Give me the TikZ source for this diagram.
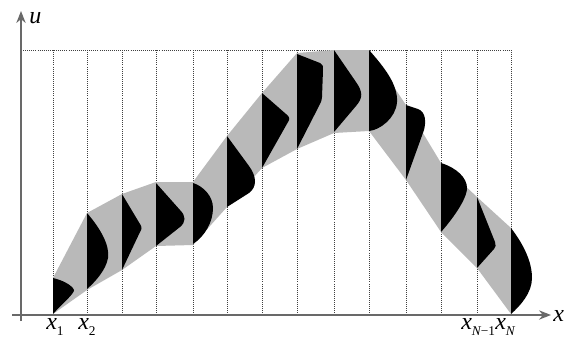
\documentclass[tikz,border=0pt]{standalone}
\usepackage{fontspec}
\setmainfont{Liberation Serif}
\usepackage{tikz}
\usetikzlibrary{arrows.meta}
\definecolor{bandgray}{RGB}{185,185,185}
\definecolor{axisgray}{RGB}{105,105,105}
\newcommand{\lowsub}[1]{\raisebox{-4.5pt}{\fontsize{10}{11}\selectfont #1}}
\tikzset{
  gridline/.style={densely dotted, black!75, line width=0.55pt},
  axisline/.style={-{Stealth[length=9pt,width=7pt]}, axisgray, line width=1.1pt},
  band/.style={fill=bandgray},
  pdf/.style={fill=black},
  varlabel/.style={font=\fontsize{18}{20}\selectfont\itshape, inner sep=0pt},
}

\begin{document}
\begin{tikzpicture}[x=0.75pt,y=-0.75pt]
  \useasboundingbox (0,0) rectangle (572,337);
  % grid
  \draw[gridline] (21,50) -- (511,50);
  \foreach \x in {53,87,122,156,193,227,262,297,334,369,406,441,477,511}
    \draw[gridline] (\x,50) -- (\x,315);
  % band
  \fill[band] (53,278) -- (87,213) -- (122,194) -- (156,182) -- (193,182)
    -- (227,136) -- (262,93) -- (297,53) -- (334,50) -- (369,50)
    -- (406,105) -- (441,163) -- (477,197) -- (511,228)
    -- (511,314) -- (477,268) -- (441,232) -- (406,180) -- (369,131)
    -- (334,133) -- (297,149) -- (262,168) -- (227,207) -- (193,245)
    -- (156,246) -- (122,270) -- (87,290) -- (53,314) -- cycle;
  % densities at the nodes
  \fill[pdf] (53,278) .. controls (62,280) and (72,285) .. (74,290)
    .. controls (75,293) and (60,306) .. (53,314) -- cycle;
  \fill[pdf] (87,213) .. controls (100,228) and (110,245) .. (108,258)
    .. controls (106,270) and (95,282) .. (87,289) -- cycle;
  \fill[pdf] (122,194) -- (140,224) .. controls (142,227) and (142,229) .. (140,232)
    -- (122,270) -- cycle;
  \fill[pdf] (156,183) -- (180,210) .. controls (186,216) and (186,222) .. (180,227)
    -- (156,246) -- cycle;
  \fill[pdf] (193,183) .. controls (203,186) and (213,196) .. (213,208)
    .. controls (213,222) and (205,236) .. (193,244) -- cycle;
  \fill[pdf] (227,136) -- (249,166) .. controls (257,177) and (257,187) .. (249,193)
    -- (227,207) -- cycle;
  \fill[pdf] (262,93) -- (286,114) .. controls (290,117) and (290,119) .. (288,122)
    -- (262,168) -- cycle;
  \fill[pdf] (297,54) -- (320,63) .. controls (323,64) and (323,66) .. (323,70)
    -- (322,97) .. controls (322,100) and (321,102) .. (320,104) -- (297,149) -- cycle;
  \fill[pdf] (334,50) -- (356,82) .. controls (363,92) and (363,98) .. (356,106)
    -- (334,132) -- cycle;
  \fill[pdf] (369,50) .. controls (385,68) and (398,85) .. (397,102)
    .. controls (396,118) and (380,130) .. (369,131) -- cycle;
  \fill[pdf] (406,105) -- (418,109) .. controls (426,112) and (426,122) .. (424,130)
    -- (406,180) -- cycle;
  \fill[pdf] (441,163) .. controls (457,168) and (467,178) .. (467,188)
    .. controls (467,200) and (450,222) .. (441,232) -- cycle;
  \fill[pdf] (477,197) -- (495,242) .. controls (496,245) and (496,247) .. (494,249)
    -- (477,268) -- cycle;
  \fill[pdf] (511,228) .. controls (524,245) and (532,262) .. (532,278)
    .. controls (532,293) and (520,306) .. (511,314) -- cycle;
  % axes
  \coordinate (xstart) at (12,315);
  \coordinate (xend) at (551,315);
  \coordinate (ustart) at (21,321);
  \coordinate (uend) at (21,11);
  \draw[axisline] (xstart) -- (xend);
  \draw[axisline] (ustart) -- (uend);
  \node[varlabel, anchor=base west] (ulab) at (29,23) {u};
  \node[varlabel, anchor=base west] (xlab) at (553,321) {x};
  % node labels
  \node[varlabel, anchor=base west] (x1) at (46,329) {x\lowsub{\upshape 1}};
  \node[varlabel, anchor=base west] (x2) at (78,329) {x\lowsub{\upshape 2}};
  \node[varlabel, anchor=base west] (xNm) at (461,329) {x\lowsub{N\upshape −1}};
  \node[varlabel, anchor=base west] (xN) at (495,329) {x\lowsub{N}};
\end{tikzpicture}
\end{document}
